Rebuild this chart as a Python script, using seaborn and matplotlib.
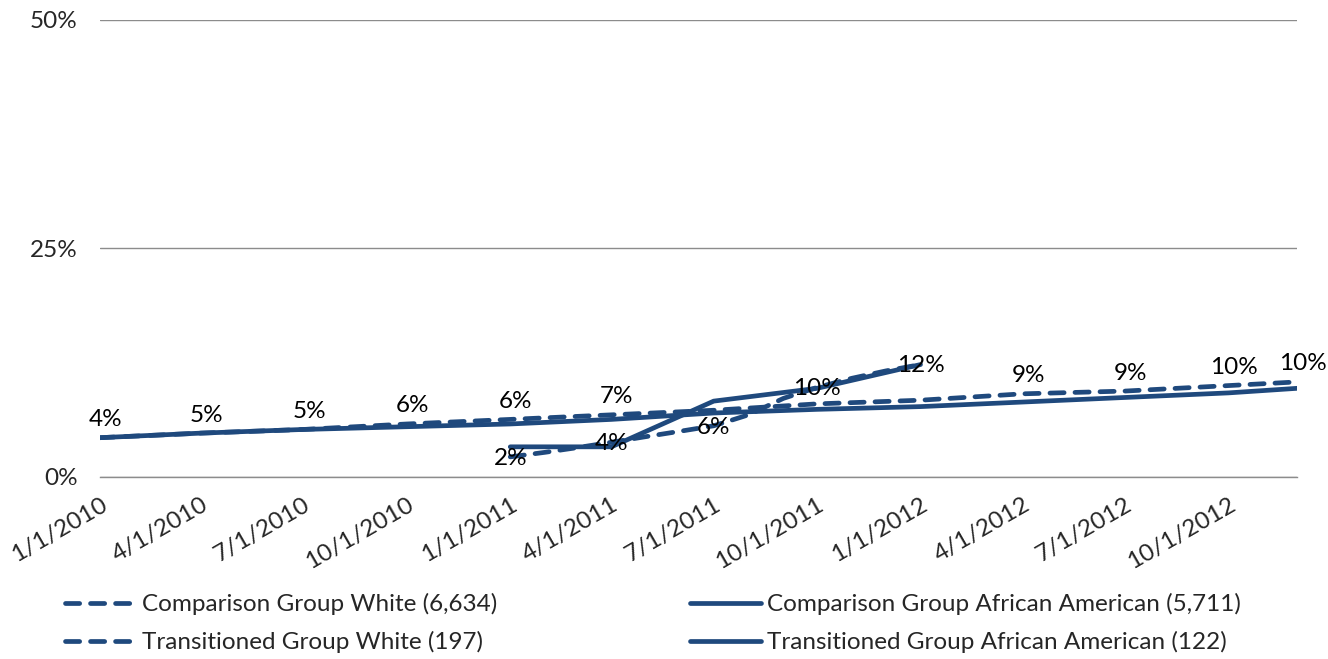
import pandas as pd
import matplotlib
matplotlib.use("Agg")
import matplotlib.pyplot as plt
from matplotlib.lines import Line2D
from matplotlib.ticker import PercentFormatter
import seaborn as sns

# data (shares, 0-1)
comp_dates = ['2010-01-01', '2010-04-01', '2010-07-01', '2010-10-01',
              '2011-01-01', '2011-04-01', '2011-07-01', '2011-10-01',
              '2012-01-01', '2012-04-01', '2012-07-01', '2012-10-01',
              '2012-12-01']
comp_white = [0.043, 0.048, 0.052, 0.058, 0.063, 0.068, 0.073, 0.080,
              0.084, 0.091, 0.094, 0.100, 0.104]
comp_aa = [0.043, 0.048, 0.052, 0.055, 0.058, 0.063, 0.070, 0.074,
           0.077, 0.082, 0.087, 0.092, 0.097]

trans_white_dates = ['2011-01-01', '2011-02-01', '2011-03-01', '2011-04-01',
                     '2011-05-01', '2011-06-01', '2011-07-01', '2011-08-01',
                     '2011-09-01', '2011-10-01', '2011-11-01', '2011-12-01',
                     '2012-01-01']
trans_white = [0.022, 0.027, 0.032, 0.038, 0.044, 0.050, 0.056, 0.068,
               0.086, 0.098, 0.108, 0.116, 0.123]

trans_aa_dates = ['2011-01-01', '2011-04-01', '2011-07-01', '2011-10-01',
                  '2012-01-01']
trans_aa = [0.033, 0.033, 0.083, 0.097, 0.123]

# which points carry a data label
comp_white_labeled = [0, 1, 2, 3, 4, 5, 9, 10, 11, 12]
trans_white_labeled = [0, 3, 6, 9, 12]

tick_dates = ['2010-01-01', '2010-04-01', '2010-07-01', '2010-10-01',
              '2011-01-01', '2011-04-01', '2011-07-01', '2011-10-01',
              '2012-01-01', '2012-04-01', '2012-07-01', '2012-10-01']

names = ['Comparison Group White (6,634)',
         'Comparison Group African American (5,711)',
         'Transitioned Group White (197)',
         'Transitioned Group African American (122)']

navy = '#1f497d'
grey = '#8c8c8c'
dash = (0, (3, 2.3))

sns.set_style('white')
plt.rcParams['font.family'] = ['Lato', 'DejaVu Sans']
fs = 17.5

fig = plt.figure(figsize=(13.28, 6.59), dpi=100)
ax = fig.add_axes([0.0753, 0.2762, 0.9014, 0.6935])

series = [
    (comp_dates, comp_white, dash),
    (comp_dates, comp_aa, '-'),
    (trans_white_dates, trans_white, dash),
    (trans_aa_dates, trans_aa, '-'),
]
for d, v, ls in series:
    sns.lineplot(x=pd.to_datetime(d), y=v, ax=ax, color=navy, lw=3.4,
                 linestyle=ls, dash_capstyle='round', solid_capstyle='round',
                 errorbar=None, legend=False)

# data labels
cw = pd.to_datetime(comp_dates)
for i in comp_white_labeled:
    ax.annotate(f"{comp_white[i]:.0%}", (cw[i], comp_white[i]), xytext=(4, 13),
                textcoords='offset points', ha='center', va='center',
                fontsize=fs, color='black')
tw = pd.to_datetime(trans_white_dates)
for i in trans_white_labeled:
    ax.annotate(f"{trans_white[i]:.0%}", (tw[i], trans_white[i]), xytext=(0, -1),
                textcoords='offset points', ha='center', va='center',
                fontsize=fs, color='black')

ax.set_xlim(pd.Timestamp(comp_dates[0]), pd.Timestamp(comp_dates[-1]))
ax.set_ylim(0, 0.5)
ax.set_yticks([0, 0.25, 0.5])
ax.yaxis.set_major_formatter(PercentFormatter(1.0, decimals=0))

td = pd.to_datetime(tick_dates)
ax.set_xticks(td)
ax.set_xticklabels([f"{t.month}/{t.day}/{t.year}" for t in td],
                   rotation=30, ha='right', rotation_mode='anchor')
ax.tick_params(axis='x', direction='out', length=8, width=1, color=grey,
               labelsize=fs, pad=4)
ax.tick_params(axis='y', length=0, labelsize=fs, pad=16)
ax.set_xlabel('')
ax.set_ylabel('')

ax.yaxis.grid(True, color=grey, lw=1)
ax.xaxis.grid(False)
for s in ['left', 'top', 'right']:
    ax.spines[s].set_visible(False)
ax.spines['bottom'].set_color(grey)
ax.spines['bottom'].set_linewidth(1)

def handle(ls):
    return Line2D([0], [0], color=navy, lw=3.4, linestyle=ls,
                  dash_capstyle='round', solid_capstyle='round')

leg_kw = dict(loc='center left', frameon=False, fontsize=fs, handlelength=2.9,
              handletextpad=0.25, labelspacing=0.65, borderpad=0, borderaxespad=0)
fig.legend([handle(dash), handle(dash)], [names[0], names[2]],
           bbox_to_anchor=(0.049, 0.0546), **leg_kw)
fig.legend([handle('-'), handle('-')], [names[1], names[3]],
           bbox_to_anchor=(0.5196, 0.0546), **leg_kw)

fig.savefig('out.png', dpi=100)
